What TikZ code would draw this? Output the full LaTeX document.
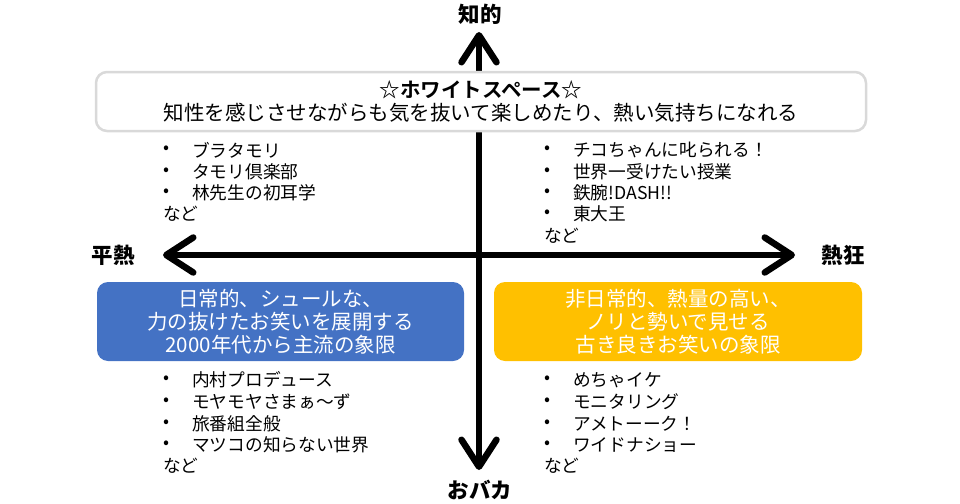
\documentclass[tikz,border=0pt]{standalone}
\usepackage{fontspec}
\setmainfont{Noto Sans CJK JP}[BoldFont={Noto Sans CJK JP Bold}]
\newfontfamily\heavyjp{Noto Sans CJK JP Black}
\usetikzlibrary{arrows.meta}
\definecolor{boxblue}{HTML}{4472C4}
\definecolor{boxyellow}{HTML}{FFC000}
\definecolor{boxgray}{HTML}{D9D9D9}
\begin{document}
\begin{tikzpicture}[x=1pt,y=-1pt,
  axis/.style={line width=6.5pt,{Straight Barb[length=27pt,width=35pt,round]}-{Straight Barb[length=27pt,width=35pt,round]}},
  axlabel/.style={font=\fontsize{21.5}{24}\heavyjp,inner sep=0pt},
  qbox/.style={rounded corners=11pt,minimum width=#1,minimum height=79pt,inner sep=0pt,align=center,
    font=\fontsize{20.5}{23}\selectfont},
  item/.style={anchor=west,inner sep=0pt,font=\fontsize{17.7}{20}\selectfont},
]
\useasboundingbox (0,0) rectangle (960,503);
% axis end points
\coordinate (ctop) at (479,32);
\coordinate (cbot) at (479,470);
\coordinate (cleft) at (163,255);
\coordinate (cright) at (795,255);
\node[axlabel] (lchi) at (480,14) {知的};
\node[axlabel] (lbaka) at (480,490) {おバカ};
\node[axlabel] (lhei) at (113,255) {平熱};
\node[axlabel] (lnek) at (843,255) {熱狂};
\draw[axis] (cbot) -- (ctop);
\draw[axis] (cleft) -- (cright);
% white box
\node[qbox=770pt,minimum height=59pt,draw=boxgray,line width=2.5pt,fill=white] (wbox) at (481,101.5)
  {\textbf{☆ホワイトスペース☆}\\知性を感じさせながらも気を抜いて楽しめたり、熱い気持ちになれる};
\node[qbox=367pt,fill=boxblue,text=white] (bbox) at (280.5,321.5)
  {日常的、シュールな、\\力の抜けたお笑いを展開する\\2000年代から主流の象限};
\node[qbox=368pt,fill=boxyellow,text=white] (ybox) at (678,321.5)
  {非日常的、熱量の高い、\\ノリと勢いで見せる\\古き良きお笑いの象限};
% lists
\foreach \t [count=\i] in {ブラタモリ,タモリ倶楽部,林先生の初耳学}
  {\node[item] (tl\i) at (192,{150+21.4*(\i-1)}) {\t};
   \node[item] (tlb\i) at (163,{150+21.4*(\i-1)}) {•};}
\node[item] (tlnado) at (163,214) {など};
\foreach \t [count=\i] in {チコちゃんに叱られる！,世界一受けたい授業,鉄腕!DASH!!,東大王}
  {\node[item] (tr\i) at (573,{150+21.4*(\i-1)}) {\t};
   \node[item] (trb\i) at (544,{150+21.4*(\i-1)}) {•};}
\node[item] (trnado) at (544,236) {など};
\foreach \t [count=\i] in {内村プロデュース,モヤモヤさまぁ～ず,旅番組全般,マツコの知らない世界}
  {\node[item] (bl\i) at (192,{380+21.7*(\i-1)}) {\t};
   \node[item] (blb\i) at (163,{380+21.7*(\i-1)}) {•};}
\node[item] (blnado) at (163,466) {など};
\foreach \t [count=\i] in {めちゃイケ,モニタリング,アメトーーク！,ワイドナショー}
  {\node[item] (br\i) at (573,{380+21.7*(\i-1)}) {\t};
   \node[item] (brb\i) at (544,{380+21.7*(\i-1)}) {•};}
\node[item] (brnado) at (544,466) {など};
\end{tikzpicture}
\end{document}
